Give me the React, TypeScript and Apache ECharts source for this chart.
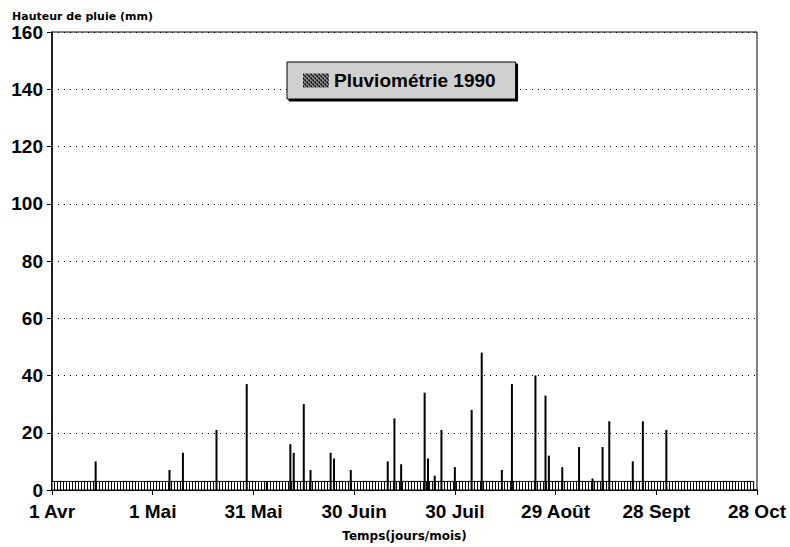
import React, { useEffect, useRef } from "react";
import * as echarts from "echarts";

// Day index counted from 1 April 1990 (day 0)
const rainDays = [13, 35, 39, 49, 58, 64, 71, 72, 75, 77, 83, 84, 89, 100, 102, 104, 111, 112, 114, 116, 120, 125, 128, 134, 137, 144, 147, 148, 152, 157, 161, 164, 166, 173, 176, 183];
const rainValues = [10, 7, 13, 21, 37, 3, 16, 13, 30, 7, 13, 11, 7, 10, 25, 9, 34, 11, 5, 21, 8, 28, 48, 7, 37, 40, 33, 12, 8, 15, 4, 15, 24, 10, 24, 21];
const tickDays = [0, 30, 60, 90, 120, 150, 180, 210];
const tickLabels = ["1 Avr", "1 Mai", "31 Mai", "30 Juin", "30 Juil", "29 Août", "28 Sept", "28 Oct"];
const bandRange = [0, 209];
const bandHeight = 3;
const seriesName = "Pluviométrie 1990";

function makePattern(kind: string): HTMLCanvasElement {
  const c = document.createElement("canvas");
  if (kind === "band") {
    c.width = 3; c.height = 4;
    const g = c.getContext("2d")!;
    g.fillStyle = "#ffffff"; g.fillRect(0, 0, 3, 4);
    g.fillStyle = "#000000"; g.fillRect(0, 0, 1, 4);
  } else {
    c.width = 4; c.height = 4;
    const g = c.getContext("2d")!;
    g.fillStyle = "#8a8a8a"; g.fillRect(0, 0, 4, 4);
    g.fillStyle = "#000000";
    for (let i = 0; i < 4; i++) g.fillRect(i, (i + 1) % 4, 1, 1);
    g.fillRect(0, 0, 1, 1); g.fillRect(2, 2, 1, 1);
  }
  return c;
}

export default function App() {
  const ref = useRef<HTMLDivElement>(null);
  useEffect(() => {
    if (!ref.current) return;
    const chart = echarts.init(ref.current, undefined, { renderer: "svg" });
    const bandPattern = { image: makePattern("band"), repeat: "repeat" };
    const iconPattern = { image: makePattern("icon"), repeat: "repeat" };
    const data = rainDays.map((d, i) => [d, rainValues[i]]);
    chart.setOption({
      animation: false,
      backgroundColor: "#ffffff",
      title: {
        text: "Hauteur de pluie (mm)",
        left: 7,
        top: 6,
        textStyle: { fontFamily: "DejaVu Sans", fontSize: 11, fontWeight: "bold", color: "#000" },
      },
      legend: {
        data: [seriesName],
        left: 287,
        top: 62,
        padding: [9, 20, 9, 16],
        backgroundColor: "#d0d0d0",
        borderColor: "#000",
        borderWidth: 1,
        shadowColor: "#000",
        shadowOffsetX: 2,
        shadowOffsetY: 2,
        shadowBlur: 0,
        icon: "rect",
        itemWidth: 26,
        itemHeight: 14,
        itemGap: 5,
        itemStyle: { color: iconPattern },
        textStyle: { fontFamily: "Liberation Sans", fontSize: 19, fontWeight: "bold", color: "#000" },
      },
      grid: { left: 52, right: 33, top: 32, bottom: 52, show: true, borderColor: "#000", borderWidth: 1, backgroundColor: "transparent" },
      xAxis: {
        type: "value",
        min: 0,
        max: 210,
        interval: 30,
        name: "Temps(jours/mois)",
        nameLocation: "middle",
        nameGap: 40,
        nameTextStyle: { fontFamily: "DejaVu Sans", fontSize: 12, fontWeight: "bold", color: "#000" },
        axisLine: { lineStyle: { color: "#000", width: 1.5 } },
        axisTick: { inside: false, length: 5, lineStyle: { color: "#000" } },
        splitLine: { show: false },
        axisLabel: {
          margin: 12,
          fontFamily: "Liberation Sans",
          fontSize: 19,
          fontWeight: "bold",
          color: "#000",
          formatter: (v: number) => {
            const i = tickDays.indexOf(v);
            return i >= 0 ? tickLabels[i] : "";
          },
        },
      },
      yAxis: {
        type: "value",
        min: 0,
        max: 160,
        interval: 20,
        axisLine: { show: true, lineStyle: { color: "#000", width: 1.5 } },
        axisTick: { show: true, inside: false, length: 5, lineStyle: { color: "#000" } },
        splitLine: { show: true, lineStyle: { color: "#000", type: [1, 5], width: 1 } },
        axisLabel: { margin: 9, fontFamily: "Liberation Sans", fontSize: 19, fontWeight: "bold", color: "#000" },
      },
      series: [
        {
          name: seriesName,
          type: "bar",
          barWidth: 2,
          itemStyle: { color: "#000" },
          data,
          markArea: {
            silent: true,
            itemStyle: { color: bandPattern, borderColor: "#000", borderWidth: 1 },
            data: [[{ coord: [bandRange[0], 0] }, { coord: [bandRange[1], bandHeight] }]],
          },
        },
      ],
    });
    return () => chart.dispose();
  }, []);
  return <div ref={ref} style={{ width: 790, height: 547, position: "absolute", left: 0, top: 0 }} />;
}
